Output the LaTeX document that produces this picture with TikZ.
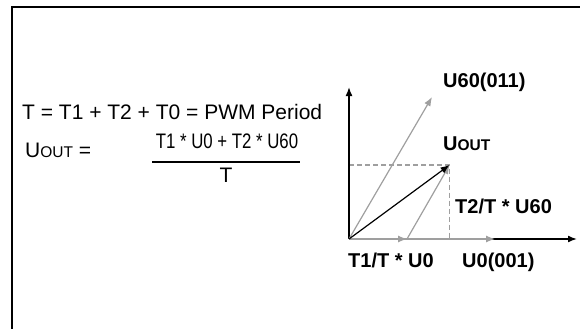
\documentclass[tikz,border=0pt]{standalone}
\usepackage{fontspec}
\setmainfont{Liberation Sans}
\usetikzlibrary{arrows.meta}

% reduced caps for the subscript part of U_OUT
\newcommand{\redcaps}[1]{{\fontsize{15.5}{16}\selectfont #1}}

\begin{document}
\begin{tikzpicture}[
                    x=1pt, y=-1pt,
                    >={Latex[length=9pt,width=7pt]},
                    axis/.style={->, line width=1.6pt},
                    vec/.style={->, draw=gray!75, line width=1.2pt},
                    guide/.style={draw=gray!75, line width=1.2pt, dash pattern=on 5pt off 3pt},
                    eq/.style={font=\fontsize{21}{25}\selectfont, inner sep=0pt},
                    lbl/.style={font=\fontsize{20}{24}\selectfont\bfseries, inner sep=0pt, anchor=base west}
                    ]
                    \useasboundingbox (0,0) rectangle (580,329);

                    % frame
                    \draw[line width=2pt] (580,7) -- (12,7) -- (12,329);

                    % formulas
                    \node [eq, anchor=base west] (period) at (22,119) {T = T1 + T2 + T0 = PWM Period};
                    \node [eq, anchor=base west] (lhs) at (25,157) {U\redcaps{OUT} =};
                    \node [eq, anchor=base, xscale=0.8] (num) at (227,148) {T1 * U0 + T2 * U60};
                    \node [eq, anchor=base] (den) at (226,182) {T};
                    \coordinate (barl) at (152,162);
                    \coordinate (barr) at (300,162);
                    \draw[line width=1.5pt] (barl) -- (barr);

                    % vector diagram
                    \coordinate (O) at (349,239);
                    \coordinate (ytop) at (349,87);
                    \coordinate (xend) at (577,239);
                    \coordinate (u0) at (495,239);
                    \coordinate (t1) at (407,239);
                    \coordinate (u60) at (432,97);
                    \coordinate (uout) at (449.5,165);
                    \coordinate (uy) at (349,165);
                    \coordinate (ux) at (449.5,239);

                    \draw[guide] (uy) -- (uout) -- (ux);
                    \draw[axis] (O) -- (ytop);
                    \draw[axis] (O) -- (xend);
                    \draw[vec] (O) -- (u0);
                    \draw[vec] (O) -- (t1);
                    \draw[vec] (O) -- (u60);
                    \draw[vec] (t1) -- (uout);
                    \draw[->, line width=1.2pt] (O) -- (uout);

                    \node [lbl] (u60lbl) at (443,87) {U60(011)};
                    \node [lbl] (uoutlbl) at (443,150) {U\redcaps{OUT}};
                    \node [lbl] (t2lbl) at (455,213) {T2/T * U60};
                    \node [lbl] (t1lbl) at (348,267) {T1/T * U0};
                    \node [lbl] (u0lbl) at (462,267) {U0(001)};
                \end{tikzpicture}
\end{document}
